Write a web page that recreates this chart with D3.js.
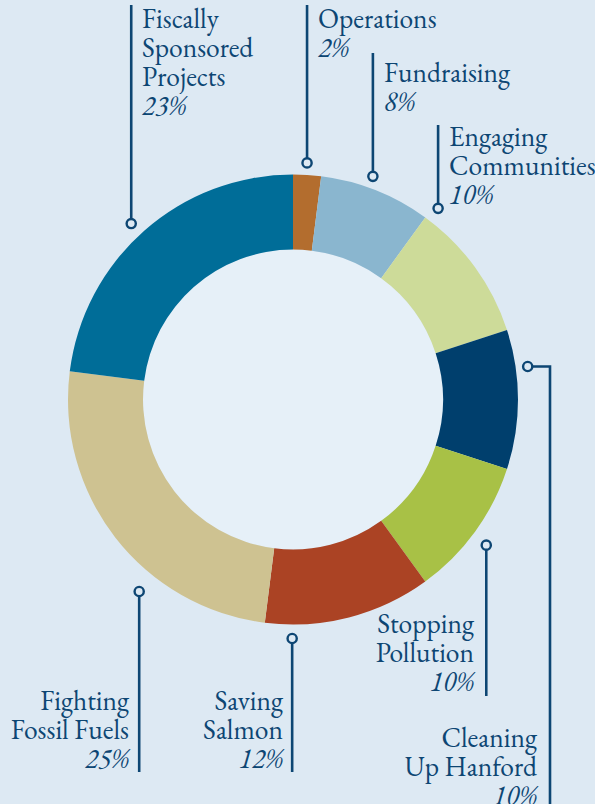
<!DOCTYPE html>
<html>
<head>
<meta charset="utf-8">
<script src="https://cdn.jsdelivr.net/npm/d3@7"></script>
<style>
html,body{margin:0;padding:0;background:#dde9f3;}
svg{display:block;}
</style>
</head>
<body>
<svg id="chart" width="595" height="804"></svg>
<script>
// Data
const categories = ["Operations","Fundraising","Engaging Communities","Cleaning Up Hanford","Stopping Pollution","Saving Salmon","Fighting Fossil Fuels","Fiscally Sponsored Projects"];
const values = [2, 8, 10, 10, 10, 12, 25, 23];
const labelLines = [
  ["Operations"],
  ["Fundraising"],
  ["Engaging","Communities"],
  ["Cleaning","Up Hanford"],
  ["Stopping","Pollution"],
  ["Saving","Salmon"],
  ["Fighting","Fossil Fuels"],
  ["Fiscally","Sponsored","Projects"]
];
const colors = ["#b36d2e","#8ab6cf","#cddb99","#003f6d","#a8c146","#ab4324","#cec291","#006d98"];

// Layout of the annotations (leader dot angle/radius, text anchor, leader ends)
const layout = [
  {ang: 3.4,  r: 237, tx: 318, ty: 28,  anchor:"start", lineTop: 5},
  {ang: 19.7, r: 237, tx: 384, ty: 82,  anchor:"start", lineTop: 53},
  {ang: 37.2, r: 240, tx: 449, ty: 146, anchor:"start", lineTop: 125},
  {ang: 82,   r: 237, tx: 537, ty: 747, anchor:"end",   elbowX: 550, lineBottom: 804},
  {ang: 127,  r: 242, tx: 474, ty: 633, anchor:"end",   lineBottom: 696},
  {ang: 180.2,r: 239, tx: 283, ty: 710, anchor:"end",   lineBottom: 772},
  {ang: 218.7,r: 246, tx: 129, ty: 710, anchor:"end",   lineBottom: 772},
  {ang: 317.4,r: 239, tx: 142, ty: 28,  anchor:"start", lineTop: 5}
];

const W = 595, H = 804;
const cx = 293, cy = 399.5;
const outerR = 225, innerR = 150;
const lineH = 29;
const ink = "#0d4673";
const FONT = "EB Garamond";

const svg = d3.select("#chart");
svg.append("rect").attr("width", W).attr("height", H).attr("fill", "#dde9f3");

const g = svg.append("g").attr("transform", `translate(${cx},${cy})`);

g.append("circle").attr("r", innerR).attr("fill", "#e6f0f8");

const pie = d3.pie().sort(null).value(d => d)(values);
const arc = d3.arc().innerRadius(innerR).outerRadius(outerR);
g.selectAll("path.slice").data(pie).join("path")
  .attr("class","slice")
  .attr("d", arc)
  .attr("fill", (d,i) => colors[i]);

// Labels
const ann = svg.append("g");
layout.forEach((L, i) => {
  const a = L.ang * Math.PI / 180;
  const [px, py] = d3.pointRadial(a, L.r);
  const dx = cx + px, dy = cy + py;
  if (L.elbowX !== undefined) {
    ann.append("path")
      .attr("d", `M${dx},${dy}H${L.elbowX}V${L.lineBottom}`)
      .attr("fill","none").attr("stroke", ink).attr("stroke-width", 2.6);
  } else if (L.lineBottom !== undefined) {
    ann.append("line").attr("x1", dx).attr("x2", dx).attr("y1", dy).attr("y2", L.lineBottom)
      .attr("stroke", ink).attr("stroke-width", 2.6);
  } else {
    ann.append("line").attr("x1", dx).attr("x2", dx).attr("y1", L.lineTop).attr("y2", dy)
      .attr("stroke", ink).attr("stroke-width", 2.6);
  }
  ann.append("circle").attr("cx", dx).attr("cy", dy).attr("r", 4.6)
    .attr("fill", "#dde9f3").attr("stroke", ink).attr("stroke-width", 2.4);

  const t = ann.append("text")
    .attr("text-anchor", L.anchor)
    .attr("font-family", FONT)
    .attr("font-size", 27.5)
    .attr("fill", ink);
  labelLines[i].forEach((ln, j) => {
    t.append("tspan").attr("x", L.tx).attr("y", L.ty + j*lineH).text(ln);
  });
  t.append("tspan").attr("x", L.tx).attr("y", L.ty + labelLines[i].length*lineH)
    .attr("font-style","italic").text(values[i] + "%");
});
</script>
</body>
</html>
